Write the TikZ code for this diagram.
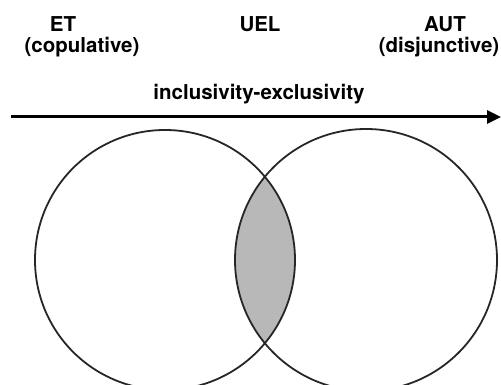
\documentclass[tikz,border=0pt]{standalone}
\usepackage{fontspec}
\setmainfont{TeX Gyre Heros}
\usetikzlibrary{arrows.meta}
\tikzset{
  lbl/.style={font=\bfseries\fontsize{20.5}{24}\selectfont, inner sep=0pt, anchor=base},
  venn/.style={draw=black!85, line width=1.8pt},
  axis/.style={line width=3pt, -{Triangle[length=14pt,width=13pt]}},
}
\begin{document}
\begin{tikzpicture}[x=1pt,y=-1pt]
\useasboundingbox (0,0) rectangle (501,385);
\clip (0,0) rectangle (501,385);
% labels
\node[lbl] (et) at (63,32) {ET};
\node[lbl] (cop) at (82,53) {(copulative)};
\node[lbl] (uel) at (260,32) {UEL};
\node[lbl] (aut) at (445,32) {AUT};
\node[lbl] (dis) at (439,53) {(disjunctive)};
\node[lbl] (inc) at (259,100) {inclusivity-exclusivity};
% arrow
\coordinate (a0) at (11,117);
\coordinate (a1) at (501,117);
\draw[axis] (a0) -- (a1);
% lens
\begin{scope}
  \clip (165,260) circle (130);
  \fill[black!28] (366,260) circle (131);
\end{scope}
\node[venn, circle, minimum size=260pt, inner sep=0pt] (L) at (165,260) {};
\node[venn, circle, minimum size=262pt, inner sep=0pt] (R) at (366,260) {};
\end{tikzpicture}
\end{document}
